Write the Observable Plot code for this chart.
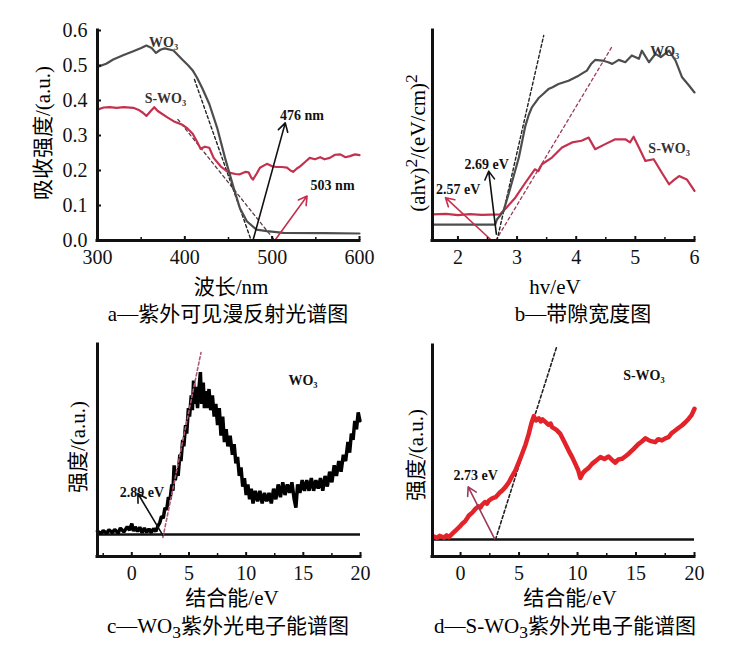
<!DOCTYPE html>
<html><head><meta charset="utf-8">
<script src="https://cdn.jsdelivr.net/npm/d3@7"></script>
<script src="https://cdn.jsdelivr.net/npm/@observablehq/plot@0.6"></script>
<style>
body{margin:0;background:#fff;}
#root{position:relative;width:756px;height:663px;overflow:hidden;font-family:"Liberation Serif","Noto Sans CJK SC",serif;color:#000;background:#fff;}
#root svg{position:absolute;overflow:visible;}
#root svg text{font-family:"Liberation Serif",serif;}
.lab{position:absolute;white-space:nowrap;font-size:21px;line-height:1;transform:translate(-50%,-50%);}
.ylab{transform:translate(-50%,-50%) rotate(-90deg);}
</style></head><body><div id="root"></div><script>
// ---------- colours ----------
const GRAY = "#4d4d4d", CRIMSON = "#c4314f", RED = "#e3232a", MAROON = "#9c3a58";

// ---------- panel a: UV-vis DRS ----------
const aXDomain = [300, 600], aYDomain = [0, 0.6];
const aXTicks = [300, 400, 500, 600], aXMinor = [350, 450, 550];
const aYTicks = [0, 0.1, 0.2, 0.3, 0.4, 0.5, 0.6];
const aWO3 = [[300,0.496],[310,0.505],[318,0.517],[330,0.53],[341,0.541],[350,0.55],[356,0.557],[362,0.55],[367,0.536],[372,0.545],[377,0.549],[387,0.543],[397,0.517],[404,0.5],[409,0.486],[414,0.465],[420,0.435],[428,0.39],[437,0.322],[446,0.236],[456,0.15],[463,0.093],[471,0.055],[482,0.031],[494,0.027],[513,0.022],[560,0.021],[600,0.02]];
const aSWO3 = [[300,0.374],[307,0.38],[314,0.381],[322,0.379],[330,0.381],[341,0.379],[348,0.372],[352,0.365],[356,0.356],[361,0.37],[365,0.381],[369,0.37],[372,0.365],[380,0.352],[387,0.341],[397,0.331],[403,0.32],[409,0.305],[414,0.282],[418,0.262],[423,0.268],[428,0.265],[433,0.236],[441,0.212],[447,0.2],[452,0.193],[458,0.19],[463,0.189],[469,0.196],[473,0.195],[476,0.18],[478,0.174],[482,0.19],[486,0.208],[494,0.219],[500,0.212],[505,0.21],[511,0.21],[517,0.208],[521,0.2],[524,0.196],[528,0.205],[532,0.212],[538,0.225],[543,0.236],[549,0.232],[555,0.238],[560,0.232],[566,0.236],[572,0.245],[578,0.246],[584,0.238],[589,0.241],[595,0.246],[600,0.244]];
const aTangentWO3 = [[411,0.46],[476,0]];
const aTangentS = [[392,0.346],[503,0]];
const aArrows = [
  {x1:478, y1:0.0, x2:515, y2:0.336, c:"#111"},
  {x1:503, y1:0.0, x2:540, y2:0.127, c:CRIMSON}
];
const aLabels = [
  {x:359, y:0.567, t:"WO₃"},
  {x:354, y:0.405, t:"S-WO₃"},
  {x:509, y:0.357, t:"476 nm"},
  {x:544, y:0.157, t:"503 nm"}
];

// ---------- panel b: Tauc plot ----------
const bXDomain = [1.57, 6], bYDomain = [0, 1];
const bXTicks = [2, 3, 4, 5, 6], bXMinor = [2.5, 3.5, 4.5, 5.5];
const bWO3 = [[1.57,0.076],[2.63,0.076],[2.66,0.1],[2.77,0.14],[2.88,0.244],[3.03,0.395],[3.14,0.546],[3.2,0.6],[3.25,0.634],[3.37,0.68],[3.45,0.7],[3.53,0.721],[3.6,0.73],[3.7,0.745],[3.87,0.761],[4.04,0.785],[4.18,0.809],[4.25,0.84],[4.32,0.86],[4.44,0.857],[4.53,0.85],[4.61,0.841],[4.72,0.86],[4.83,0.849],[4.94,0.881],[5.06,0.865],[5.11,0.904],[5.23,0.849],[5.34,0.889],[5.43,0.873],[5.57,0.904],[5.68,0.857],[5.79,0.777],[5.91,0.737],[6,0.705]];
const bSWO3 = [[1.57,0.124],[1.8,0.127],[2.0,0.121],[2.2,0.126],[2.4,0.122],[2.71,0.124],[2.82,0.156],[2.97,0.204],[3.14,0.275],[3.3,0.339],[3.36,0.33],[3.42,0.363],[3.59,0.395],[3.76,0.443],[3.93,0.467],[4.09,0.475],[4.21,0.49],[4.32,0.435],[4.49,0.459],[4.66,0.482],[4.83,0.482],[4.91,0.467],[4.97,0.494],[5.06,0.443],[5.17,0.379],[5.31,0.387],[5.43,0.331],[5.57,0.268],[5.66,0.29],[5.74,0.307],[5.87,0.291],[6,0.236]];
const bTangentWO3 = [[2.66,0],[3.45,0.976]];
const bTangentS = [[2.64,0],[4.62,0.93]];
const bArrows = [
  {x1:2.65, y1:0.03, x2:2.52, y2:0.33, c:"#111"},
  {x1:2.57, y1:0.0, x2:1.79, y2:0.204, c:CRIMSON}
];
const bLabels = [
  {x:5.25, y:0.9, t:"WO₃"},
  {x:5.22, y:0.44, t:"S-WO₃"},
  {x:2.11, y:0.363, t:"2.69 eV"},
  {x:1.63, y:0.244, t:"2.57 eV"}
];

// ---------- panel c: UPS WO3 ----------
const cXDomain = [-3, 20], cYDomain = [0, 1];
const cXTicks = [0, 5, 10, 15, 20], cXMinor = [-2.5, 2.5, 7.5, 12.5, 17.5];
const cBaseline = 0.104;
const cWO3 = [[-3,0.12],[-2.7,0.108],[-2.5,0.122],[-2.2,0.11],[-2,0.126],[-1.7,0.112],[-1.5,0.128],[-1.2,0.11],[-1,0.134],[-0.7,0.116],[-0.4,0.14],[-0.2,0.124],[0,0.155],[0.15,0.12],[0.3,0.14],[0.5,0.118],[0.7,0.138],[0.9,0.112],[1.1,0.134],[1.3,0.114],[1.5,0.13],[1.7,0.112],[1.9,0.132],[2.1,0.118],[2.3,0.146],[2.45,0.16],[2.6,0.19],[2.75,0.18],[2.9,0.23],[3.05,0.22],[3.2,0.28],[3.35,0.27],[3.5,0.34],[3.6,0.31],[3.7,0.43],[3.8,0.36],[3.95,0.41],[4.05,0.38],[4.2,0.48],[4.3,0.45],[4.45,0.55],[4.55,0.52],[4.7,0.62],[4.8,0.58],[4.95,0.7],[5.05,0.66],[5.2,0.76],[5.3,0.69],[5.4,0.83],[5.5,0.72],[5.6,0.8],[5.75,0.7],[5.85,0.78],[6.0,0.87],[6.1,0.72],[6.25,0.82],[6.35,0.7],[6.5,0.78],[6.6,0.7],[6.75,0.79],[6.9,0.69],[7.05,0.76],[7.2,0.66],[7.35,0.72],[7.5,0.62],[7.65,0.7],[7.8,0.57],[7.95,0.66],[8.1,0.54],[8.25,0.6],[8.4,0.52],[8.6,0.57],[8.8,0.48],[8.95,0.53],[9.1,0.44],[9.25,0.47],[9.4,0.38],[9.55,0.42],[9.7,0.33],[9.85,0.37],[10.0,0.29],[10.15,0.34],[10.3,0.27],[10.45,0.32],[10.6,0.25],[10.8,0.31],[11.0,0.26],[11.2,0.31],[11.4,0.25],[11.6,0.3],[11.8,0.26],[12.0,0.3],[12.2,0.25],[12.4,0.32],[12.6,0.27],[12.8,0.34],[13.0,0.28],[13.2,0.35],[13.4,0.29],[13.6,0.34],[13.8,0.3],[14.0,0.35],[14.2,0.27],[14.35,0.23],[14.5,0.34],[14.7,0.3],[14.9,0.36],[15.1,0.31],[15.3,0.36],[15.5,0.31],[15.7,0.37],[15.9,0.31],[16.1,0.36],[16.3,0.32],[16.5,0.37],[16.7,0.31],[16.9,0.38],[17.1,0.33],[17.3,0.4],[17.5,0.35],[17.7,0.43],[17.9,0.38],[18.1,0.45],[18.3,0.4],[18.5,0.48],[18.7,0.45],[18.9,0.54],[19.05,0.49],[19.2,0.58],[19.35,0.55],[19.5,0.64],[19.65,0.6],[19.8,0.68],[19.95,0.64]];
const cTangent = [[2.72,0.09],[6.05,0.962]];
const cArrows = [{x1:2.72, y1:0.1, x2:0.53, y2:0.297, c:"#111"}];
const cLabels = [
  {x:-1.05, y:0.30, t:"2.89 eV"},
  {x:13.7, y:0.83, t:"WO₃"}
];

// ---------- panel d: UPS S-WO3 ----------
const dXDomain = [-2.4, 20], dYDomain = [0, 1];
const dXTicks = [0, 5, 10, 15, 20], dXMinor = [2.5, 7.5, 12.5, 17.5];
const dBaseline = 0.081;
const dSWO3 = [[-2.33,0.095],[-2.0,0.088],[-1.8,0.098],[-1.4,0.09],[-1.2,0.1],[-1,0.092],[-0.7,0.108],[-0.43,0.123],[-0.1,0.14],[0.14,0.155],[0.4,0.168],[0.55,0.18],[0.71,0.194],[1.0,0.208],[1.28,0.226],[1.55,0.238],[1.7,0.232],[1.85,0.246],[2.1,0.258],[2.25,0.25],[2.42,0.265],[2.7,0.275],[2.99,0.281],[3.3,0.3],[3.56,0.313],[3.85,0.33],[4.13,0.352],[4.4,0.38],[4.69,0.408],[5.0,0.45],[5.26,0.487],[5.55,0.53],[5.83,0.581],[6.05,0.63],[6.26,0.665],[6.45,0.645],[6.69,0.655],[6.85,0.64],[7.0,0.65],[7.25,0.638],[7.5,0.625],[7.7,0.63],[7.82,0.613],[8.2,0.6],[8.53,0.581],[8.9,0.54],[9.24,0.502],[9.55,0.47],[9.81,0.439],[10.05,0.41],[10.24,0.372],[10.45,0.395],[10.67,0.408],[10.95,0.42],[11.24,0.439],[11.6,0.455],[11.95,0.471],[12.3,0.462],[12.66,0.474],[13.0,0.455],[13.23,0.445],[13.5,0.46],[13.8,0.463],[14.1,0.475],[14.37,0.487],[14.8,0.51],[15.22,0.534],[15.5,0.545],[15.79,0.56],[16.2,0.548],[16.64,0.542],[16.9,0.556],[17.21,0.55],[17.5,0.56],[17.78,0.566],[18.05,0.585],[18.35,0.597],[18.65,0.61],[18.92,0.621],[19.2,0.635],[19.49,0.652],[19.75,0.67],[20,0.7]];
const dTangent = [[2.99,0.081],[8.25,1.0]];
const dArrows = [{x1:2.9, y1:0.085, x2:0.65, y2:0.33, c:MAROON}];
const dLabels = [
  {x:-0.6, y:0.384, t:"2.73 eV"},
  {x:13.9, y:0.858, t:"S-WO₃"}
];

// ---------- helpers ----------
const FONT = "Liberation Serif";
const fmt = d => String(d);
function frameMarks(xd, yd, xt, xm, yt) {
  const m = [
    Plot.axisX({ticks: xt, tickSize: -4, tickPadding: 13, strokeWidth: 2, tickFormat: fmt, label: null, fontFamily: FONT}),
    Plot.axisX({ticks: xm, tickSize: -3, strokeWidth: 1.5, tickFormat: () => "", label: null}),
    Plot.ruleY([yd[0]], {strokeWidth: 3, strokeLinecap: "square"}),
    Plot.ruleX([xd[0]], {strokeWidth: 3, strokeLinecap: "square"})
  ];
  if (yt) m.push(Plot.axisY({ticks: yt, tickSize: -4, tickPadding: 14, strokeWidth: 2, tickFormat: d => d.toFixed(1), label: null, fontFamily: FONT}));
  else m.push(Plot.axisY({ticks: [], label: null}));
  return m;
}
function lbl(data, fill) {
  return Plot.text(data, {x: "x", y: "y", text: "t", textAnchor: "start", fontWeight: "bold", fontSize: 14, fill: fill || "#111", fontFamily: FONT});
}
function arrows(data) {
  return Plot.arrow(data, {x1: "x1", y1: "y1", x2: "x2", y2: "y2", stroke: "c", strokeWidth: 1.6, headLength: 9, bend: false});
}
function base(opts) {
  return Object.assign({
    style: "font-family: 'Liberation Serif', serif; font-size: 20px; color: #111; background: transparent; overflow: visible;"
  }, opts);
}
const root = document.getElementById("root");
function place(svg, left, top) { svg.style.left = left + "px"; svg.style.top = top + "px"; root.appendChild(svg); }

// ---------- panel a ----------
place(Plot.plot(base({
  width: 378, height: 275, marginLeft: 97, marginRight: 19, marginTop: 30, marginBottom: 35,
  x: {domain: aXDomain}, y: {domain: aYDomain},
  marks: [
    Plot.line(aTangentS, {stroke: "#5a3a46", strokeWidth: 1.3, strokeDasharray: "3,3"}),
    Plot.line(aTangentWO3, {stroke: "#222", strokeWidth: 1.4, strokeDasharray: "3,2.5"}),
    Plot.line(aSWO3, {stroke: CRIMSON, strokeWidth: 2.2}),
    Plot.line(aWO3, {stroke: GRAY, strokeWidth: 2.2}),
    arrows(aArrows),
    lbl(aLabels.slice(0, 2), "#333"),
    lbl(aLabels.slice(2)),
    ...frameMarks(aXDomain, aYDomain, aXTicks, aXMinor, aYTicks)
  ]
})), 0, 0);

// ---------- panel b ----------
place(Plot.plot(base({
  width: 378, height: 275, marginLeft: 54, marginRight: 62, marginTop: 30, marginBottom: 35,
  x: {domain: bXDomain}, y: {domain: bYDomain},
  marks: [
    Plot.line(bTangentS, {stroke: MAROON, strokeWidth: 1.3, strokeDasharray: "3,3"}),
    Plot.line(bTangentWO3, {stroke: "#222", strokeWidth: 1.4, strokeDasharray: "3,2.5"}),
    Plot.line(bSWO3, {stroke: CRIMSON, strokeWidth: 2.2}),
    Plot.line(bWO3, {stroke: GRAY, strokeWidth: 2.2}),
    arrows(bArrows),
    lbl(bLabels.slice(0, 2), "#333"),
    lbl(bLabels.slice(2)),
    ...frameMarks(bXDomain, bYDomain, bXTicks, bXMinor, null)
  ]
})), 378, 0);

// ---------- panel c ----------
place(Plot.plot(base({
  width: 378, height: 255, marginLeft: 97, marginRight: 18, marginTop: 14, marginBottom: 29,
  x: {domain: cXDomain}, y: {domain: cYDomain},
  marks: [
    Plot.ruleY([cBaseline], {strokeWidth: 2.5}),
    Plot.line(cWO3, {stroke: "#000", strokeWidth: 3.5, strokeLinejoin: "miter"}),
    Plot.line(cTangent, {stroke: "#b05a78", strokeWidth: 1.6, strokeDasharray: "3,2.5"}),
    arrows(cArrows),
    lbl(cLabels),
    ...frameMarks(cXDomain, cYDomain, cXTicks, cXMinor, null)
  ]
})), 0, 330);

// ---------- panel d ----------
place(Plot.plot(base({
  width: 378, height: 255, marginLeft: 54, marginRight: 62, marginTop: 15, marginBottom: 29,
  x: {domain: dXDomain}, y: {domain: dYDomain},
  marks: [
    Plot.ruleY([dBaseline], {strokeWidth: 2.5}),
    Plot.line(dTangent, {stroke: "#222", strokeWidth: 1.6, strokeDasharray: "3,2.5"}),
    Plot.line(dSWO3, {stroke: RED, strokeWidth: 4.5}),
    arrows(dArrows),
    lbl(dLabels),
    ...frameMarks(dXDomain, dYDomain, dXTicks, dXMinor, null)
  ]
})), 378, 330);

// ---------- axis titles & captions (HTML text) ----------
const texts = [
  {x:43, y:133, h:"吸收强度/(a.u.)", r:true},
  {x:231, y:287, h:"波长/nm"},
  {x:228, y:314, h:"a—紫外可见漫反射光谱图"},
  {x:416, y:143, h:"(ahv)<sup>2</sup>/(eV/cm)<sup>2</sup>", r:true},
  {x:555, y:287, h:"hv/eV"},
  {x:583, y:314, h:"b—带隙宽度图"},
  {x:78, y:447, h:"强度/(a.u.)", r:true},
  {x:232, y:598, h:"结合能/eV"},
  {x:228, y:629, h:"c—WO<sub>3</sub>紫外光电子能谱图"},
  {x:416, y:455, h:"强度/(a.u.)", r:true},
  {x:570, y:598, h:"结合能/eV"},
  {x:565, y:629, h:"d—S-WO<sub>3</sub>紫外光电子能谱图"}
];
for (const t of texts) {
  const d = document.createElement("div");
  d.className = "lab" + (t.r ? " ylab" : "");
  d.style.left = t.x + "px"; d.style.top = t.y + "px";
  d.innerHTML = t.h;
  root.appendChild(d);
}
</script></body></html>
